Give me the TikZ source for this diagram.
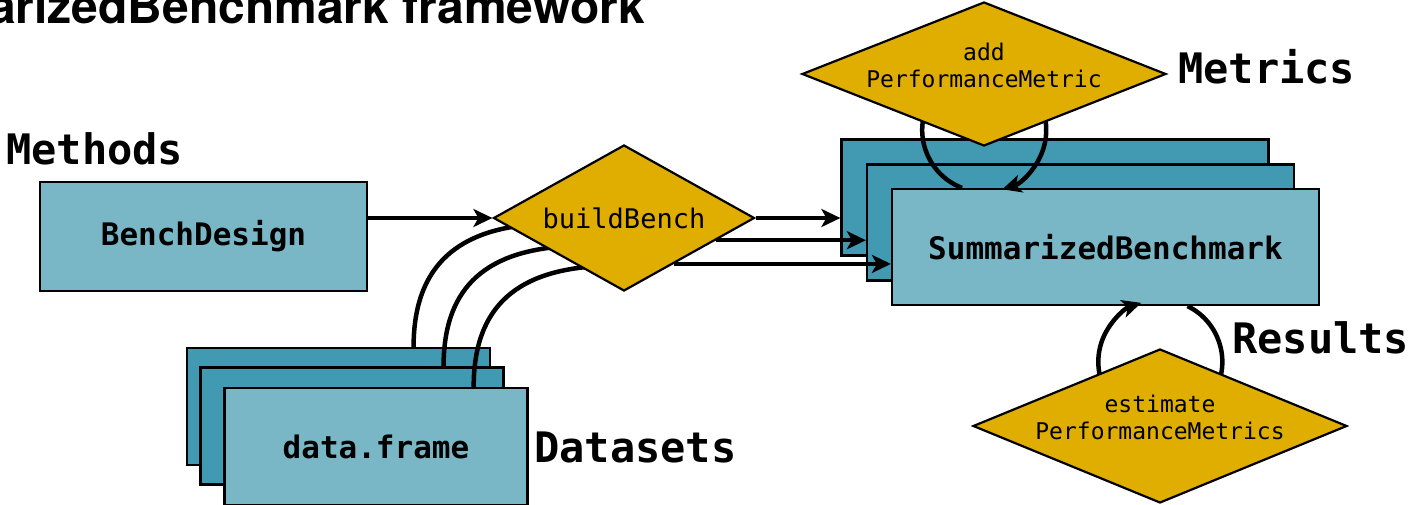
\documentclass[tikz,border=0pt]{standalone}
\usepackage{fontspec}
\usepackage{xcolor}
\usepackage{tikz}
\usetikzlibrary{shapes.geometric, arrows.meta, positioning, calc}
\newfontfamily\codefont{DejaVu Sans Mono}
\newfontfamily\titlefont{TeX Gyre Heros}
\definecolor{gold}{RGB}{224, 174, 0}
\definecolor{tealdark}{RGB}{66, 153, 178}
\definecolor{teallite}{RGB}{121, 183, 198}
\pgfdeclarelayer{fnlayer}
\pgfsetlayers{main,fnlayer}

\begin{document}
\begin{tikzpicture}[x=1pt, y=-1pt,
  objbox/.style={rectangle, draw=black, line width=2.2pt, fill=teallite,
    font=\codefont\bfseries\fontsize{31pt}{36pt}\selectfont,
    inner sep=0pt},
  behind/.style={fill=tealdark},
  fnbox/.style={diamond, draw=black, line width=2.2pt, fill=gold,
    inner sep=0pt, aspect=2},
  fntext/.style={font=\codefont\fontsize{23pt}{27pt}\selectfont,
    align=center, inner sep=0pt},
  arr/.style={-{Stealth[length=19pt, width=18pt, inset=5pt]}, line width=4.5pt},
  feed/.style={line width=4.5pt},
  lbl/.style={font=\codefont\bfseries\fontsize{42pt}{48pt}\selectfont,
    inner sep=0pt, anchor=base west}
]
\useasboundingbox (0,0) rectangle (1409,505);

\node[font=\titlefont\bfseries\fontsize{48pt}{56pt}\selectfont,
      anchor=base east, inner sep=0pt] (title) at (645,24) {arizedBenchmark framework};

\node[lbl] (methodslbl) at (6,165) {Methods};
\node[objbox, minimum width=327pt, minimum height=109pt] (bench) at (203.5,236.5) {BenchDesign};

% data sets
\node[objbox, behind, minimum width=303pt, minimum height=117pt] (ds3) at (338.5,406.5) {};
\node[objbox, behind, minimum width=303pt, minimum height=117pt] (ds2) at (352,426) {};
\node[objbox, minimum width=303pt, minimum height=117pt] (ds1) at (376,446.5) {data.frame};
\node[lbl] (datalbl) at (534,462) {Datasets};

% summarized benchmark
\node[objbox, behind, minimum width=427pt, minimum height=116pt] (sb3) at (1055,197.5) {};
\node[objbox, behind, minimum width=427pt, minimum height=116pt] (sb2) at (1080.5,222.5) {};
\node[objbox, minimum width=427pt, minimum height=116pt] (sb1) at (1105.5,247) {SummarizedBenchmark};

\begin{pgfonlayer}{fnlayer}
\node[fnbox, minimum width=261pt, minimum height=146pt,
      font=\codefont\fontsize{27pt}{32pt}\selectfont] (bb) at (624,218) {buildBench};
\node[fnbox, minimum width=364pt, minimum height=144pt] (addm) at (984,74) {};
\node[fntext] (addt) at ($(addm.center)+(0,-9)$) {add\\PerformanceMetric};
\node[fnbox, minimum width=374pt, minimum height=154pt] (estm) at (1160,426) {};
\node[fntext] (estt) at ($(estm.center)+(0,-9)$) {estimate\\PerformanceMetrics};
\end{pgfonlayer}

\node[lbl] (metricslbl) at (1178,84) {Metrics};
\node[lbl] (resultslbl) at (1232,353) {Results};

\draw[arr] (bench.east |- bb.west) -- (bb.west);

% out of buildBench
\coordinate (bo2) at ($(bb.east)!0.3!(bb.south)$);
\coordinate (bo3) at ($(bb.east)!0.62!(bb.south)$);
\draw[arr] (bb.east) -- (bb.east -| sb3.west);
\draw[arr] (bo2) -- (bo2 -| sb2.west);
\draw[arr] (bo3) -- (bo3 -| sb1.west);

% data frames into buildBench
\coordinate (di1) at ($(ds3.north west)!0.746!(ds3.north east)$);
\coordinate (di2) at ($(ds2.north west)!0.8!(ds2.north east)$);
\coordinate (di3) at ($(ds1.north west)!0.82!(ds1.north east)$);
\coordinate (bi1) at ($(bb.center)+(-84,6)$);
\coordinate (bi2) at ($(bb.center)+(-54,28)$);
\coordinate (bi3) at ($(bb.center)+(-24,48)$);
\draw[feed] (di1) .. controls +(0,-83) and +(-80,4) .. (bi1);
\draw[feed] (di2) .. controls +(0,-83) and +(-80,4) .. (bi2);
\draw[feed] (di3) .. controls +(0,-83) and +(-80,4) .. (bi3);

% loops
\draw[arr] ($(sb1.north)+(-143.5,0)$) arc[start angle=111, end angle=433, radius=62];
\draw[arr] ($(sb1.south)+(82,0)$) arc[start angle=-64, end angle=252, radius=62];
\end{tikzpicture}
\end{document}
